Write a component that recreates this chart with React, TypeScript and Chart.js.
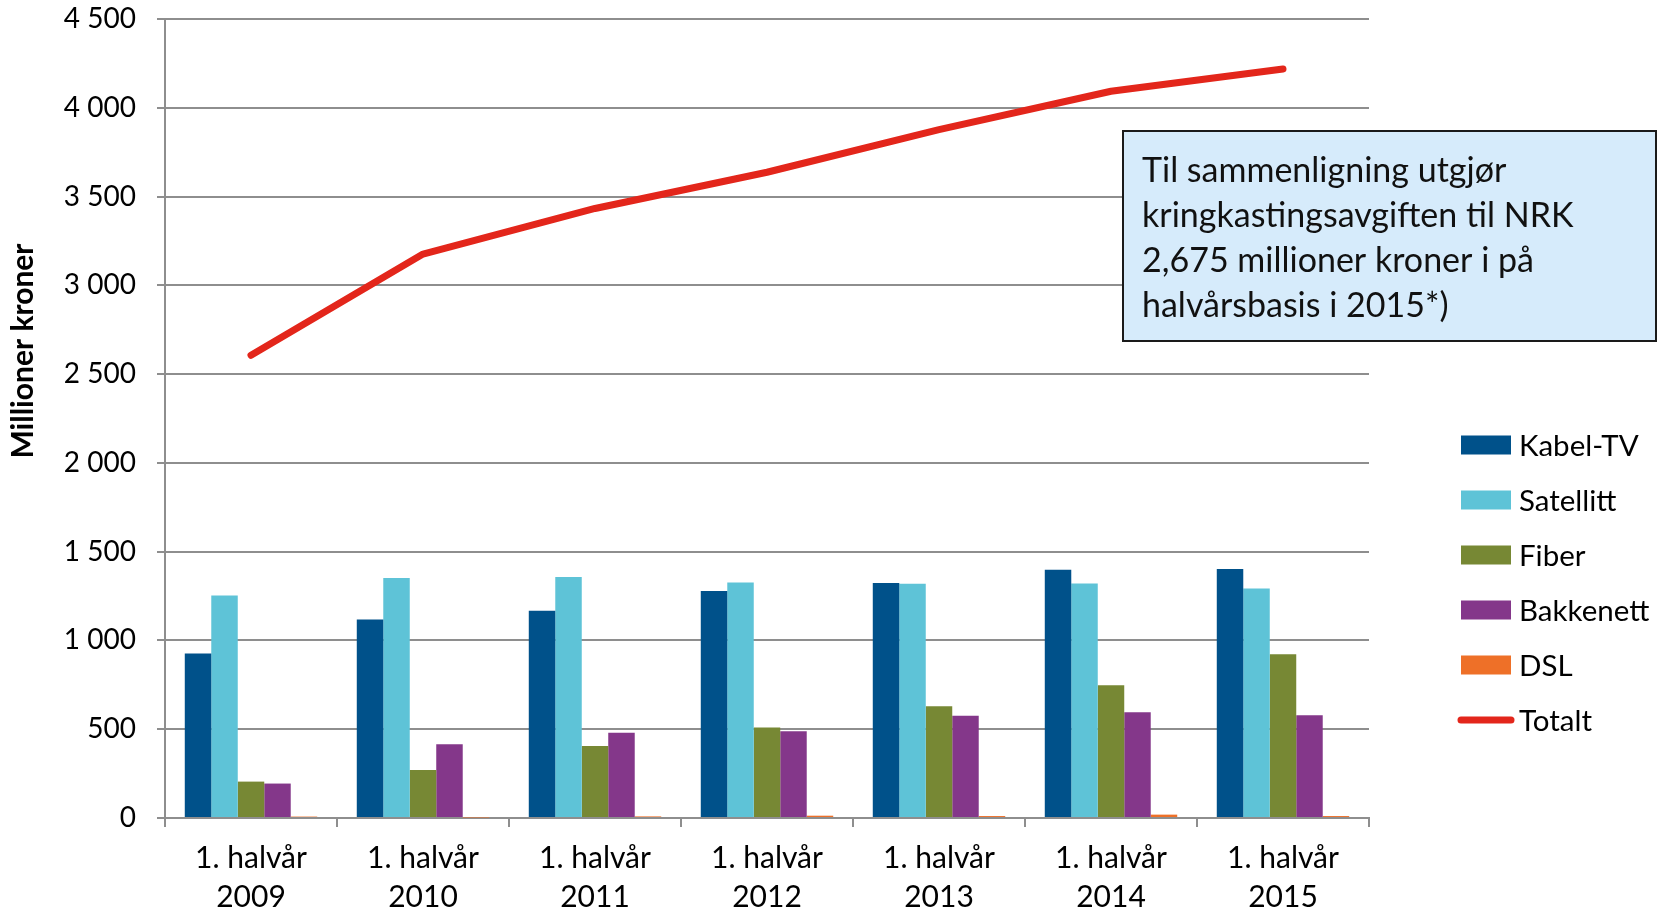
import React, { useEffect, useRef } from "react";
import { Chart, registerables } from "chart.js";

Chart.register(...registerables);

const categories: string[][] = [
  ["1. halvår", "2009"],
  ["1. halvår", "2010"],
  ["1. halvår", "2011"],
  ["1. halvår", "2012"],
  ["1. halvår", "2013"],
  ["1. halvår", "2014"],
  ["1. halvår", "2015"],
];
const kabelTV = [926, 1118, 1167, 1278, 1323, 1398, 1402];
const satellitt = [1253, 1351, 1357, 1327, 1319, 1321, 1293];
const fiber = [205, 271, 406, 510, 629, 747, 922];
const bakkenett = [194, 416, 480, 489, 576, 595, 578];
const dsl = [8, 3, 9, 13, 11, 19, 11];
const totalt = [2606, 3176, 3433, 3637, 3877, 4093, 4218];

const yTitle = "Millioner kroner";
const noteLines = [
  "Til sammenligning utgjør",
  "kringkastingsavgiften til NRK",
  "2,675 millioner kroner i på",
  "halvårsbasis i 2015*)",
];

const COLORS = {
  kabel: "#00518a",
  sat: "#5ec3d7",
  fiber: "#778834",
  bakk: "#84378a",
  dsl: "#ee7028",
  tot: "#e3261b",
};

const FONT = "Lato, 'Open Sans', sans-serif";
const GRID = "#8e8e8e";

const fmt = (v: number) => String(v).replace(/\B(?=(\d{3})+(?!\d))/g, " ");

const decorPlugin = {
  id: "decor",
  afterDraw(chart: any) {
    const ctx = chart.ctx as CanvasRenderingContext2D;
    const ca = chart.chartArea;
    ctx.save();
    // Y axis title
    ctx.translate(23, 351);
    ctx.rotate(-Math.PI / 2);
    ctx.font = `bold 30px ${FONT}`;
    ctx.fillStyle = "#000";
    ctx.textAlign = "center";
    ctx.textBaseline = "middle";
    ctx.fillText(yTitle, 0, 0);
    ctx.restore();

    // Note box
    ctx.save();
    const bx = 1123, by = 131, bw = 533, bh = 210;
    ctx.fillStyle = "#d6ebfb";
    ctx.fillRect(bx, by, bw, bh);
    ctx.strokeStyle = "#1a1a1a";
    ctx.lineWidth = 2;
    ctx.strokeRect(bx, by, bw, bh);
    ctx.font = `34px ${FONT}`;
    ctx.fillStyle = "#111";
    ctx.textAlign = "left";
    ctx.textBaseline = "middle";
    noteLines.forEach((l, i) => ctx.fillText(l, bx + 19, 171 + i * 45));
    ctx.restore();

    // Legend
    ctx.save();
    const lx = ca.right + 92;
    const ly = 445;
    ctx.font = `29.5px ${FONT}`;
    ctx.textBaseline = "middle";
    ctx.textAlign = "left";
    chart.data.datasets.forEach((ds: any, i: number) => {
      const y = ly + i * 55;
      if (ds.type === "line") {
        ctx.strokeStyle = ds.borderColor;
        ctx.lineWidth = 7;
        ctx.lineCap = "round";
        ctx.beginPath();
        ctx.moveTo(lx, y);
        ctx.lineTo(lx + 50, y);
        ctx.stroke();
      } else {
        ctx.fillStyle = ds.backgroundColor;
        ctx.fillRect(lx, y - 9.5, 50, 19);
      }
      ctx.fillStyle = "#000";
      ctx.fillText(ds.label, lx + 58, y + 1);
    });
    ctx.restore();
  },
};

export default function App() {
  const ref = useRef<HTMLCanvasElement>(null);
  useEffect(() => {
    if (!ref.current) return;
    const chart = new Chart(ref.current, {
      type: "bar",
      data: {
        labels: categories,
        datasets: [
          { type: "bar", label: "Kabel-TV", data: kabelTV, backgroundColor: COLORS.kabel, order: 2 },
          { type: "bar", label: "Satellitt", data: satellitt, backgroundColor: COLORS.sat, order: 2 },
          { type: "bar", label: "Fiber", data: fiber, backgroundColor: COLORS.fiber, order: 2 },
          { type: "bar", label: "Bakkenett", data: bakkenett, backgroundColor: COLORS.bakk, order: 2 },
          { type: "bar", label: "DSL", data: dsl, backgroundColor: COLORS.dsl, order: 2 },
          {
            type: "line",
            label: "Totalt",
            data: totalt,
            borderColor: COLORS.tot,
            backgroundColor: COLORS.tot,
            borderWidth: 7,
            pointRadius: 0,
            tension: 0,
            borderCapStyle: "round",
            borderJoinStyle: "round",
            order: 1,
          } as any,
        ],
      },
      options: {
        animation: false,
        responsive: true,
        maintainAspectRatio: false,
        layout: { autoPadding: false, padding: { left: 0, right: 300, top: 19, bottom: 0 } },
        datasets: {
          bar: { categoryPercentage: 0.77, barPercentage: 1.0 },
        } as any,
        plugins: {
          legend: { display: false },
          tooltip: { enabled: false },
        },
        scales: {
          x: {
            grid: {
              offset: true,
              drawOnChartArea: false,
              drawTicks: true,
              tickLength: 9,
              color: GRID,
              lineWidth: 2,
            },
            border: { color: GRID, width: 2 },
            ticks: {
              color: "#000",
              font: { family: FONT, size: 30, lineHeight: 1.3 },
              padding: 12,
              maxRotation: 0,
              autoSkip: false,
            },
            afterFit(scale: any) {
              scale.height = 94;
              scale.paddingLeft = 0;
              scale.paddingRight = 0;
            },
          },
          y: {
            min: 0,
            max: 4500,
            ticks: {
              stepSize: 500,
              color: "#000",
              font: { family: FONT, size: 28 },
              padding: 21,
              callback: (v: any) => fmt(Number(v)),
            },
            grid: { color: GRID, lineWidth: 2, tickLength: 8 },
            border: { color: GRID, width: 2 },
            afterFit(scale: any) {
              scale.width = 165;
              scale.paddingTop = 0;
              scale.paddingBottom = 0;
            },
          },
        },
      },
      plugins: [decorPlugin],
    });
    return () => chart.destroy();
  }, []);
  return (
    <div style={{ position: "fixed", left: 0, top: 0, width: 1669, height: 912, background: "#fff" }}>
      <canvas ref={ref} />
    </div>
  );
}
